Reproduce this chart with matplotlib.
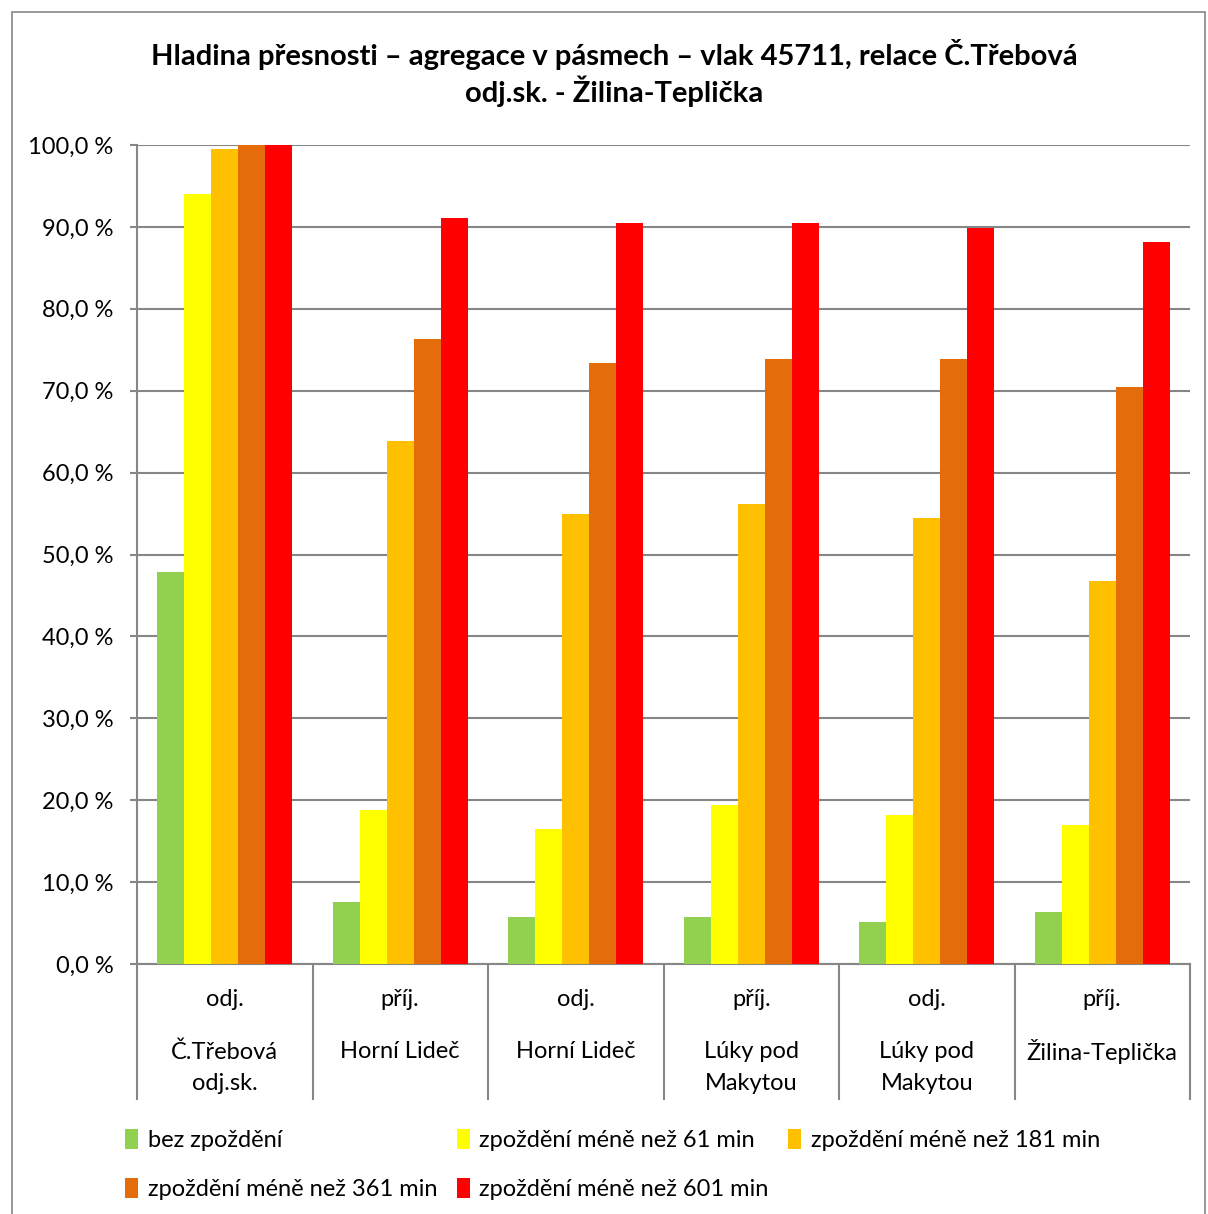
import numpy as np
import matplotlib.pyplot as plt
from matplotlib.patches import Rectangle
from matplotlib.transforms import blended_transform_factory

plt.rcParams['font.family'] = ['Lato', 'DejaVu Sans']

# data
smer = ['odj.', 'příj.', 'odj.', 'příj.', 'odj.', 'příj.']
stanice = [['Č.Třebová', 'odj.sk.'], ['Horní Lideč'], ['Horní Lideč'],
           ['Lúky pod', 'Makytou'], ['Lúky pod', 'Makytou'], ['Žilina-Teplička']]
serie = ['bez zpoždění', 'zpoždění méně než 61 min', 'zpoždění méně než 181 min',
         'zpoždění méně než 361 min', 'zpoždění méně než 601 min']
bez = [47.9, 7.6, 5.7, 5.7, 5.1, 6.3]
min61 = [94.0, 18.8, 16.5, 19.4, 18.2, 17.0]
min181 = [99.5, 63.9, 54.9, 56.2, 54.5, 46.8]
min361 = [100.0, 76.3, 73.4, 73.9, 73.9, 70.5]
min601 = [100.0, 91.1, 90.5, 90.5, 89.9, 88.2]
barvy = ['#92D050', '#FFFF00', '#FFC000', '#E46C0A', '#FF0000']

W, H = 1208, 1214
fig = plt.figure(figsize=(W / 100, H / 100), dpi=100)
ax = fig.add_axes([137 / W, 1 - 964 / H, (1190 - 137) / W, (964 - 145) / H])

# outer chart border
fig.patches.append(Rectangle((12 / W, -0.01), (1205 - 12) / W, 1 - 12 / H + 0.01,
                             transform=fig.transFigure, fill=False,
                             edgecolor='#868686', linewidth=1.2))

x = np.arange(len(smer))
sirka = 0.154
hodnoty = [bez, min61, min181, min361, min601]
handles = []
for i, (vals, c) in enumerate(zip(hodnoty, barvy)):
    h = ax.bar(x + (i - 2) * sirka, vals, sirka, color=c, label=serie[i], zorder=3)
    handles.append(h)

ax.set_xlim(-0.5, len(smer) - 0.5)
ax.set_ylim(0, 100)
ax.set_yticks(np.arange(0, 101, 10))
ax.set_yticklabels([f'{v:.1f}'.replace('.', ',') + ' %' for v in np.arange(0, 101, 10)],
                   fontsize=17)
ax.yaxis.grid(True, color='#868686', linewidth=1.5, zorder=0)
ax.tick_params(axis='y', length=5, width=1.5, color='#868686', pad=12)

# category boundaries as long ticks
ax.set_xticks(np.arange(-0.5, len(smer), 1.0))
ax.set_xticklabels([])
ax.tick_params(axis='x', length=98, width=1.5, color='#868686')

for s in ['top', 'right']:
    ax.spines[s].set_visible(False)
for s in ['left', 'bottom']:
    ax.spines[s].set_color('#868686')
    ax.spines[s].set_linewidth(1.5)

tr = blended_transform_factory(ax.transData, fig.transFigure)
for i in range(len(smer)):
    ax.text(x[i], 1 - 1000 / H, smer[i], transform=tr, ha='center', va='center',
            fontsize=17)
    for j, radek in enumerate(stanice[i]):
        ax.text(x[i], 1 - (1052 + 31 * j) / H, radek, transform=tr,
                ha='center', va='center', fontsize=17)

fig.text(614 / W, 1 - 73 / H,
         'Hladina přesnosti – agregace v pásmech – vlak 45711, relace Č.Třebová\nodj.sk. - Žilina-Teplička',
         ha='center', va='center', fontsize=21, fontweight='bold', linespacing=1.2)

order = [0, 3, 1, 4, 2]
fig.legend([handles[k] for k in order], [serie[k] for k in order],
           loc='upper left', bbox_to_anchor=(104 / W, 1 - 1108 / H), ncol=3,
           frameon=False, fontsize=17, handlelength=0.55, handleheight=0.9,
           handletextpad=0.4, columnspacing=0.83, labelspacing=1.15)

fig.savefig('out.png', dpi=100)
